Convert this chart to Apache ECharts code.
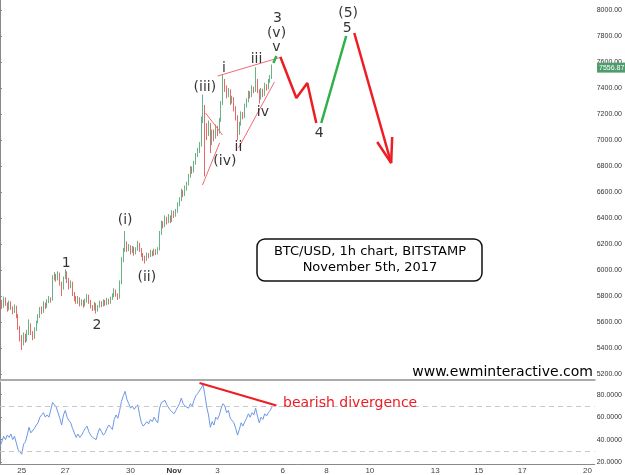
<!DOCTYPE html>
<html>
<head>
<meta charset="utf-8">
<script src="https://cdn.jsdelivr.net/npm/echarts@6/dist/echarts.min.js"></script>
<style>
  html, body { margin: 0; padding: 0; background: #fff; }
  #chart { width: 625px; height: 475px; }
</style>
</head>
<body>
<div id="chart"></div>
<script>
// x is hours since Oct 24 00:00, one candle every 2 hours
const dayTicks = [1, 3, 6, 8, 10, 13, 15, 17, 20, 22, 24, 27];
const dayLabels = ['25', '27', '30', 'Nov', '3', '6', '8', '10', '13', '15', '17', '20'];

// [open, close, low, high]
const candles = [
  [5780,5760,5740,5800],[5760,5720,5700,5770],[5720,5780,5710,5795],[5780,5740,5725,5790],
  [5740,5700,5680,5750],[5700,5750,5690,5765],[5750,5710,5695,5760],[5710,5680,5660,5720],
  [5680,5720,5670,5735],[5720,5650,5630,5725],[5650,5560,5540,5660],[5560,5480,5450,5570],
  [5480,5430,5385,5500],[5430,5500,5420,5520],[5500,5460,5440,5510],[5460,5520,5450,5540],
  [5520,5580,5500,5620],[5580,5520,5500,5590],[5520,5480,5460,5530],[5480,5540,5470,5560],
  [5540,5600,5530,5610],[5600,5640,5590,5660],[5640,5700,5630,5715],[5700,5680,5660,5720],
  [5680,5740,5670,5760],[5740,5720,5700,5750],[5720,5760,5710,5775],[5760,5780,5745,5800],
  [5780,5770,5750,5790],[5770,5940,5765,5960],[5940,5960,5920,5985],[5960,5930,5910,5970],
  [5930,5970,5920,5990],[5970,5900,5880,5980],[5900,5860,5800,5910],[5860,5940,5850,5950],
  [5940,5980,5930,6005],[5980,5930,5900,5990],[5930,5880,5850,5940],[5880,5900,5860,5920],
  [5900,5820,5800,5910],[5820,5790,5760,5830],[5790,5760,5740,5800],[5760,5780,5740,5800],
  [5780,5740,5720,5790],[5740,5760,5725,5775],[5760,5730,5710,5770],[5730,5760,5720,5780],
  [5760,5800,5750,5815],[5800,5760,5740,5810],[5760,5720,5705,5770],[5720,5700,5685,5730],
  [5700,5740,5690,5755],[5740,5690,5665,5745],[5690,5720,5680,5730],[5720,5750,5710,5765],
  [5750,5730,5715,5760],[5730,5760,5720,5775],[5760,5740,5725,5770],[5740,5770,5730,5785],
  [5770,5750,5735,5780],[5750,5780,5740,5795],[5780,5800,5770,5820],[5800,5840,5790,5860],
  [5840,5810,5795,5850],[5810,5790,5770,5820],[5790,5900,5780,5920],[5900,6080,5890,6100],
  [6080,6150,6060,6170],[6150,6200,6140,6300],[6200,6160,6140,6220],[6160,6180,6145,6200],
  [6180,6140,6120,6190],[6140,6170,6130,6185],[6170,6130,6110,6180],[6130,6160,6120,6175],
  [6160,6200,6150,6225],[6200,6160,6140,6210],[6160,6120,6100,6170],[6120,6090,6070,6130],
  [6090,6080,6050,6110],[6080,6120,6070,6135],[6120,6110,6090,6130],[6110,6140,6100,6155],
  [6140,6120,6105,6150],[6120,6150,6110,6165],[6150,6130,6115,6160],[6130,6160,6120,6175],
  [6160,6280,6150,6300],[6280,6360,6270,6380],[6360,6340,6320,6375],[6340,6400,6330,6420],
  [6400,6370,6350,6410],[6370,6410,6360,6430],[6410,6380,6360,6420],[6380,6440,6370,6460],
  [6440,6420,6400,6455],[6420,6450,6410,6470],[6450,6500,6440,6520],[6500,6540,6490,6560],
  [6540,6600,6530,6625],[6600,6580,6560,6615],[6580,6630,6570,6650],[6630,6660,6610,6680],
  [6660,6720,6650,6740],[6720,6780,6710,6800],[6780,6760,6740,6795],[6760,6820,6750,6840],
  [6820,6880,6810,6900],[6880,6920,6870,6940],[6920,6960,6900,6985],[6960,7150,6950,7180],
  [7150,7250,7130,7350],[7250,7100,6720,7270],[7100,7050,7000,7130],[7050,7120,7030,7150],
  [7120,6980,6900,7130],[6980,7060,6960,7080],[7060,7020,6990,7080],[7020,7100,7010,7120],
  [7100,7060,7030,7110],[7060,7150,7050,7170],[7150,7280,7140,7300],[7280,7450,7270,7500],
  [7450,7400,7370,7470],[7400,7350,7320,7420],[7350,7380,7330,7400],[7380,7300,7270,7390],
  [7300,7320,7280,7340],[7320,7250,7220,7330],[7250,7180,7150,7260],[7180,7050,7000,7190],
  [7050,7120,7040,7140],[7120,7200,7110,7220],[7200,7180,7160,7215],[7180,7260,7170,7280],
  [7260,7300,7250,7320],[7300,7360,7290,7380],[7360,7340,7320,7375],[7340,7400,7330,7420],
  [7400,7380,7360,7410],[7380,7460,7370,7560],[7460,7380,7360,7470],[7380,7320,7280,7390],
  [7320,7380,7310,7400],[7380,7350,7330,7395],[7350,7420,7340,7440],[7420,7400,7380,7430],
  [7400,7450,7390,7470],[7450,7480,7440,7500],[7480,7556.87,7470,7580]
];

const rsi = [
  34,38,43,40,44,42,45,40,43,37,31,29,27,36,38,44,51,46,47,50,
  53,55,60,62,64,60,62,60,61,73,72,69,70,59,53,62,66,60,57,55,
  50,46,42,45,42,44,47,50,52,47,44,42,41,40,46,50,47,44,46,50,
  53,51,49,58,62,59,66,74,79,83,76,72,68,70,67,69,71,62,55,52,
  51,56,54,58,56,60,57,55,68,73,72,75,71,70,66,67,63,66,69,72,
  77,72,70,71,68,72,70,75,79,81,80,86,89,80,69,62,51,56,53,60,
  58,62,68,72,70,64,66,59,60,55,50,44,49,55,52,56,59,63,60,64,
  62,68,61,55,60,58,63,61,64,66,69
];

// wave count labels: [hour, price, text]
const waveLabels = [
  [73, 6054, '1'], [107, 5577, '2'], [138, 6385, '(i)'], [162, 5946, '(ii)'],
  [226, 7408, '(iii)'], [248, 6838, '(iv)'], [247, 7554, 'i'], [263, 6946, 'ii'],
  [283, 7623, 'iii'], [290, 7215, 'iv'], [305, 7715, 'v'], [305, 7823, '(v)'],
  [306, 7938, '3'], [352, 7054, '4'], [383, 7862, '5'], [384, 7977, '(5)']
];

// channel lines of the diagonal and the (iv) triangle
const wedgeLines = [
  [[240, 7492], [310.4, 7638]],
  [[263.1, 6938], [302.7, 7446]],
  [[226.7, 7208], [245.5, 7038]],
  [[223.4, 6654], [242.2, 6977]]
];

// projected path
const redPaths = [
  [[309.3, 7638], [326.9, 7323], [339, 7438], [348.9, 7131]],
  [[390.8, 7823], [431.5, 6823]],
  [[416.1, 6985], [431.5, 6823], [432.6, 7023]]
];
const greenPaths = [
  [[301.6, 7592], [304.9, 7646]],
  [[354.4, 7131], [381.9, 7800]]
];

// RSI divergence
const rsiDivergence = [[220.1, 90.4], [304.9, 70.4]];

const chart = echarts.init(document.getElementById('chart'));

const font = 'DejaVu Sans, Verdana, sans-serif';
const axisFont = 'Liberation Sans, Arial, sans-serif';

function lineSeries(points, color, width, xi) {
  return {
    type: 'line',
    xAxisIndex: xi || 0,
    yAxisIndex: xi || 0,
    data: points,
    symbol: 'none',
    silent: true,
    z: 5,
    lineStyle: { color: color, width: width }
  };
}

const series = [
  {
    type: 'candlestick',
    xAxisIndex: 0,
    yAxisIndex: 0,
    barWidth: 1,
    data: candles.map((r, i) => [i * 2].concat(r)),
    itemStyle: {
      color: '#66b386',
      color0: '#e46a68',
      borderColor: '#66b386',
      borderColor0: '#e46a68',
      borderWidth: 1
    }
  },
  {
    type: 'line',
    xAxisIndex: 1,
    yAxisIndex: 1,
    data: rsi.map((v, i) => [i * 2, v]),
    symbol: 'none',
    lineStyle: { color: '#6c98e6', width: 1 },
    markLine: {
      silent: true,
      symbol: 'none',
      label: { show: false },
      lineStyle: { color: '#c8c8c8', type: [5, 4], width: 1 },
      data: [{ yAxis: 70 }, { yAxis: 30 }]
    }
  },
  {
    type: 'scatter',
    xAxisIndex: 0,
    yAxisIndex: 0,
    data: waveLabels,
    symbolSize: 0,
    itemStyle: { color: '#000' },
    silent: true,
    z: 10,
    label: {
      show: true,
      position: 'inside',
      formatter: p => p.value[2],
      color: '#000',
      textBorderWidth: 0,
      fontSize: 14,
      fontFamily: font
    }
  }
];
wedgeLines.forEach(l => series.push(lineSeries(l, '#f06a74', 1)));
redPaths.forEach(l => series.push(lineSeries(l, '#ee1c24', 2.5)));
greenPaths.forEach(l => series.push(lineSeries(l, '#2fb14a', 2.5)));
series.push(lineSeries(rsiDivergence, '#ee1c24', 2, 1));

const xBase = {
  type: 'value',
  min: 0,
  max: 656,
  interval: 24,
  splitLine: { show: false },
  axisTick: { show: false }
};

chart.setOption({
  animation: false,
  grid: [
    { left: 0, right: 29, top: 0, height: 380 },
    { left: 0, right: 29, top: 382, height: 83 }
  ],
  xAxis: [
    Object.assign({}, xBase, {
      gridIndex: 0,
      axisLabel: { show: false },
      axisLine: { show: true, lineStyle: { color: '#aaaaaa', width: 2 } }
    }),
    Object.assign({}, xBase, {
      gridIndex: 1,
      axisLine: { show: true, lineStyle: { color: '#888888', width: 1 } },
      axisLabel: {
        fontSize: 8,
        fontFamily: axisFont,
        color: '#444',
        margin: 3,
        showMinLabel: false,
        showMaxLabel: false,
        formatter: v => {
          const k = dayTicks.indexOf(v / 24);
          if (k < 0) return '';
          return dayLabels[k] === 'Nov' ? '{b|Nov}' : dayLabels[k];
        },
        rich: { b: { fontWeight: 'bold', fontSize: 8, fontFamily: axisFont, color: '#333' } }
      }
    })
  ],
  yAxis: [
    {
      type: 'value',
      gridIndex: 0,
      position: 'right',
      min: 5154,
      max: 8077,
      splitNumber: 14,
      scale: true,
      splitLine: { show: false },
      axisLine: { show: true, lineStyle: { color: '#888' } },
      axisTick: { show: true, length: 2, lineStyle: { color: '#888' } },
      axisLabel: {
        fontSize: 7,
        fontFamily: axisFont,
        color: '#333',
        margin: 2,
        showMinLabel: false,
        showMaxLabel: false,
        formatter: v => v.toFixed(2)
      }
    },
    {
      type: 'value',
      gridIndex: 1,
      position: 'right',
      min: 18.3,
      max: 91.3,
      splitNumber: 4,
      scale: true,
      splitLine: { show: false },
      axisLine: { show: true, lineStyle: { color: '#888' } },
      axisTick: { show: true, length: 2, lineStyle: { color: '#888' } },
      axisLabel: {
        fontSize: 7,
        fontFamily: axisFont,
        color: '#333',
        margin: 2,
        showMinLabel: false,
        showMaxLabel: false,
        formatter: v => v.toFixed(4)
      }
    }
  ],
  series: series,
  graphic: [
    {
      type: 'rect',
      id: 'box',
      shape: { x: 257, y: 239, width: 225, height: 42, r: 8 },
      style: { fill: '#fff', stroke: '#111', lineWidth: 1.5 },
      z: 20
    },
    {
      type: 'text',
      id: 'boxText',
      x: 370,
      y: 260,
      style: {
        text: 'BTC/USD, 1h chart, BITSTAMP\nNovember 5th, 2017',
        font: '13px ' + font,
        fill: '#000',
        align: 'center',
        verticalAlign: 'middle',
        lineHeight: 16
      },
      z: 21
    },
    {
      type: 'text',
      id: 'url',
      x: 593,
      y: 372,
      style: {
        text: 'www.ewminteractive.com',
        font: '14px ' + font,
        fill: '#000',
        align: 'right',
        verticalAlign: 'middle'
      },
      z: 21
    },
    {
      type: 'text',
      id: 'bearish',
      x: 283,
      y: 403,
      style: {
        text: 'bearish divergence',
        font: '14px ' + font,
        fill: '#ee1c24',
        align: 'left',
        verticalAlign: 'middle'
      },
      z: 21
    }
  ]
});

// last price tag on the price axis
const last = candles[candles.length - 1][1];
const tagY = chart.convertToPixel({ yAxisIndex: 0 }, last);
chart.setOption({
  graphic: [
    {
      type: 'rect',
      id: 'tag',
      shape: { x: 597, y: tagY - 5, width: 28, height: 10 },
      style: { fill: '#4f9d6c' },
      z: 30
    },
    {
      type: 'text',
      id: 'tagText',
      x: 599,
      y: tagY,
      style: {
        text: last.toFixed(2),
        font: '7px ' + axisFont,
        fill: '#fff',
        align: 'left',
        verticalAlign: 'middle'
      },
      z: 31
    }
  ]
});
</script>
</body>
</html>
